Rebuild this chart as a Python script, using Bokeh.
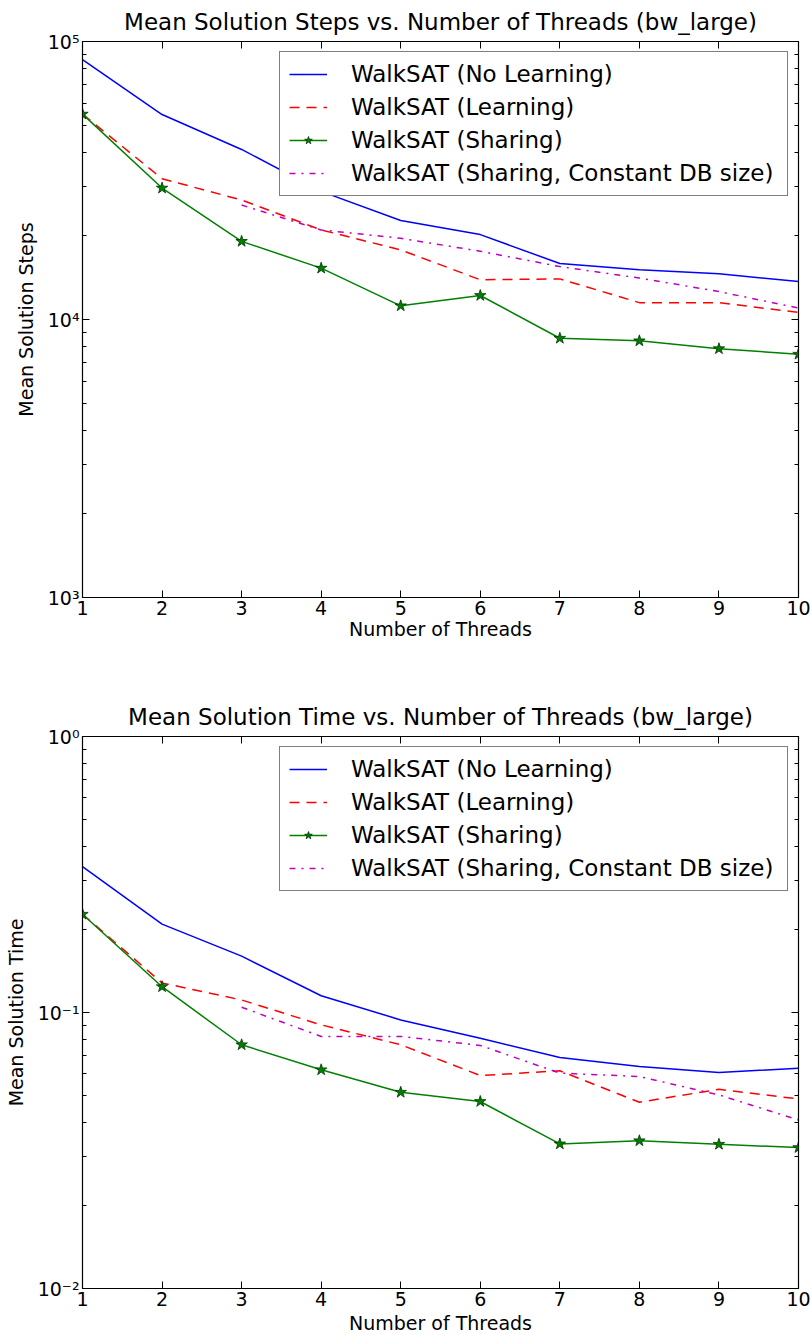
import math
from bokeh.plotting import figure
from bokeh.layouts import column
from bokeh.models import (FixedTicker, CustomJSTickFormatter, LinearAxis, Range1d,
                          Legend, LegendItem)
from bokeh.embed import file_html
from bokeh.resources import INLINE

# ---------------- data ----------------
threads = [1, 2, 3, 4, 5, 6, 7, 8, 9, 10]
threads_const = [3, 4, 5, 6, 7, 8, 9, 10]

steps_no_learning = [86000, 54600, 40900, 28900, 22700, 20200, 15900, 15100, 14600, 13700]
steps_learning = [54800, 32100, 26900, 21000, 17800, 13900, 14000, 11500, 11500, 10600]
steps_sharing = [54800, 29700, 19100, 15300, 11200, 12200, 8560, 8380, 7850, 7500]
steps_sharing_const = [25800, 21000, 19600, 17600, 15500, 14100, 12600, 11000]

time_no_learning = [0.338, 0.209, 0.160, 0.115, 0.094, 0.0807, 0.0687, 0.0637, 0.0606, 0.0628]
time_learning = [0.227, 0.128, 0.111, 0.0902, 0.0764, 0.0591, 0.0615, 0.0473, 0.0527, 0.0486]
time_sharing = [0.227, 0.124, 0.0764, 0.062, 0.0514, 0.0476, 0.0334, 0.0343, 0.0333, 0.0324]
time_sharing_const = [0.1045, 0.0819, 0.0819, 0.076, 0.0603, 0.0586, 0.0503, 0.0408]

series_labels = ["WalkSAT (No Learning)", "WalkSAT (Learning)", "WalkSAT (Sharing)",
                 "WalkSAT (Sharing, Constant DB size)"]
x_tick_values = [1, 2, 3, 4, 5, 6, 7, 8, 9, 10]

FONT = "DejaVu Sans"

sup_code = """
const sup = {"-":"\u207b","0":"\u2070","1":"\u00b9","2":"\u00b2","3":"\u00b3","4":"\u2074",
             "5":"\u2075","6":"\u2076","7":"\u2077","8":"\u2078","9":"\u2079"};
const e = Math.round(Math.log10(tick));
return "10" + String(e).split("").map(c => sup[c]).join("");
"""


def style_axis(ax):
    ax.axis_line_color = "black"
    ax.major_tick_line_color = "black"
    ax.minor_tick_line_color = "black"
    ax.major_tick_in = 7
    ax.major_tick_out = 0
    ax.minor_tick_in = 4
    ax.minor_tick_out = 0
    ax.major_label_text_font = FONT
    ax.major_label_text_color = "black"
    ax.axis_label_text_font = FONT
    ax.axis_label_text_font_style = "normal"
    ax.axis_label_text_font_size = "19px"
    ax.axis_label_text_color = "black"


def make_fig(title, ylabel, ylo, yhi, ys, height, frame_h, top_b, bottom_b, xlabel_standoff):
    p = figure(width=811, height=height, frame_width=716, frame_height=frame_h,
               y_axis_type="log", x_range=Range1d(1, 10), y_range=Range1d(ylo, yhi),
               output_backend="svg", toolbar_location=None,
               min_border_left=82, min_border_right=13,
               min_border_top=top_b, min_border_bottom=bottom_b)
    p.title.text = title
    p.title.align = "center"
    p.title.text_font = FONT
    p.title.text_font_size = "23px"
    p.title.text_font_style = "normal"
    p.title.text_color = "black"
    p.title.standoff = 13
    p.grid.visible = False
    p.outline_line_color = "black"
    p.outline_line_width = 1.2
    p.background_fill_color = "white"
    p.border_fill_color = "white"

    e0, e1 = int(round(math.log10(ylo))), int(round(math.log10(yhi)))
    majors = [10.0 ** e for e in range(e0, e1 + 1)]
    minors = [m * 10.0 ** e for e in range(e0, e1) for m in range(2, 10)]
    yticker = FixedTicker(ticks=majors, minor_ticks=minors)
    xticker = FixedTicker(ticks=x_tick_values, minor_ticks=[])

    bottom = p.below[0]
    left = p.left[0]
    bottom.ticker = xticker
    left.ticker = yticker
    left.formatter = CustomJSTickFormatter(code=sup_code)
    bottom.axis_label = "Number of Threads"
    left.axis_label = ylabel

    blank = CustomJSTickFormatter(code="return '';")
    right = LinearAxis(ticker=yticker, formatter=blank, major_label_standoff=0)
    top = LinearAxis(ticker=xticker, formatter=blank, major_label_standoff=0)
    p.add_layout(right, "right")
    p.add_layout(top, "above")

    for ax in (bottom, left, right, top):
        style_axis(ax)
    for ax in (right, top):
        ax.major_label_text_font_size = "1px"
    for ax in (bottom, left):
        ax.major_label_text_font_size = "19px"
        ax.major_label_standoff = 3
    bottom.axis_label_standoff = xlabel_standoff
    left.axis_label_standoff = 8

    nl, le, sh, sc = ys
    r1 = p.line(threads, nl, line_color="#0000ff", line_width=1.5)
    r2 = p.line(threads, le, line_color="#ff0000", line_width=1.5, line_dash="10 7")
    r3 = p.line(threads, sh, line_color="#008000", line_width=1.5)
    r3m = p.scatter(threads, sh, marker="star", size=12, fill_color="#008000",
                    line_color="#003300", line_width=0.8)
    r4 = p.line(threads_const, sc, line_color="#bf00bf", line_width=1.5, line_dash="6 6 2 6")

    legend = Legend(items=[
        LegendItem(label=series_labels[0], renderers=[r1]),
        LegendItem(label=series_labels[1], renderers=[r2]),
        LegendItem(label=series_labels[2], renderers=[r3, r3m]),
        LegendItem(label=series_labels[3], renderers=[r4]),
    ], location="top_right")
    legend.label_text_font = FONT
    legend.label_text_font_size = "23px"
    legend.label_text_color = "black"
    legend.glyph_width = 38
    legend.label_standoff = 24
    legend.label_width = 427
    legend.padding = 9
    legend.spacing = 7
    legend.margin = 10
    legend.border_line_color = "black"
    legend.border_line_width = 1.2
    legend.background_fill_alpha = 1.0
    p.add_layout(legend, "center")
    return p


p1 = make_fig("Mean Solution Steps vs. Number of Threads (bw_large)", "Mean Solution Steps",
              1e3, 1e5, (steps_no_learning, steps_learning, steps_sharing, steps_sharing_const),
              height=690, frame_h=556, top_b=40, bottom_b=94, xlabel_standoff=0)
p2 = make_fig("Mean Solution Time vs. Number of Threads (bw_large)", "Mean Solution Time",
              1e-2, 1e0, (time_no_learning, time_learning, time_sharing, time_sharing_const),
              height=640, frame_h=552, top_b=45, bottom_b=43, xlabel_standoff=3)

layout = column(p1, p2, spacing=0)
open("out.html", "w").write(file_html(layout, INLINE))
